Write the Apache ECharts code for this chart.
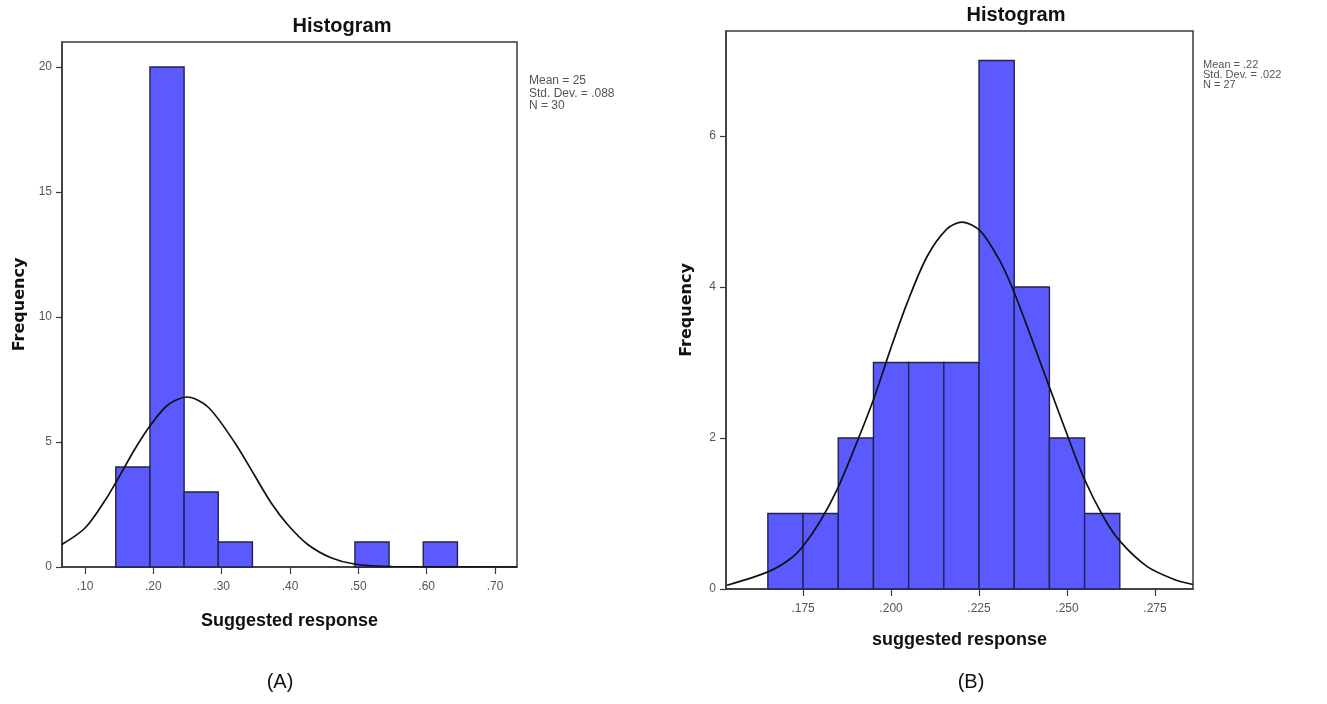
<!DOCTYPE html>
<html lang="en">
<head>
    <meta charset="UTF-8">
    <title>Histogram</title>
    <script src="https://cdn.jsdelivr.net/npm/echarts@6/dist/echarts.min.js"></script>
    <style>
        * {
            margin: 0;
            padding: 0;
        }

        html, body {
            width: 100%;
            height: 100%;
            overflow: hidden;
            background: #fff;
        }

        .box {
            width: 1327px;
            height: 704px;
        }
    </style>
</head>
<body>
<div class="box"></div>
<script>
    // (A) left histogram
    let binsA = [0.145, 0.195, 0.245, 0.295, 0.495, 0.595];
    let countsA = [4, 20, 3, 1, 1, 1];
    let binWidthA = 0.05;
    let ticksA = [0.10, 0.20, 0.30, 0.40, 0.50, 0.60, 0.70];
    let yTicksA = [0, 5, 10, 15, 20];
    let curveXA = [0.066, 0.10, 0.129, 0.146, 0.173, 0.197, 0.222, 0.249, 0.28, 0.319, 0.348, 0.373, 0.397, 0.426, 0.46, 0.494, 0.55, 0.732];
    let curveYA = [0.9, 1.56, 2.65, 3.42, 4.72, 5.72, 6.5, 6.8, 6.4, 4.98, 3.67, 2.54, 1.68, 0.9, 0.37, 0.12, 0.02, 0];
    let statsA = ['Mean = 25', 'Std. Dev. = .088', 'N = 30'];

    // (B) right histogram
    let binsB = [0.165, 0.175, 0.185, 0.195, 0.205, 0.215, 0.225, 0.235, 0.245, 0.255];
    let countsB = [1, 1, 2, 3, 3, 3, 7, 4, 2, 1];
    let binWidthB = 0.01;
    let ticksB = [0.175, 0.200, 0.225, 0.250, 0.275];
    let yTicksB = [0, 2, 4, 6];
    let curveXB = [0.1534, 0.1652, 0.1714, 0.1752, 0.1799, 0.1847, 0.1894, 0.1951, 0.1998, 0.2045, 0.2102, 0.2159, 0.2202, 0.2254, 0.2311, 0.2348, 0.2396, 0.2448, 0.250, 0.2547, 0.2604, 0.2651, 0.2727, 0.2803, 0.2858];
    let curveYB = [0.05, 0.23, 0.40, 0.58, 0.90, 1.32, 1.84, 2.52, 3.17, 3.78, 4.40, 4.77, 4.86, 4.74, 4.33, 3.95, 3.36, 2.70, 2.05, 1.48, 0.95, 0.63, 0.30, 0.13, 0.06];
    let statsB = ['Mean = .22', 'Std. Dev. = .022', 'N = 27'];

    let box = document.querySelector('.box');
    let mychart = echarts.init(box);

    let font = '"Liberation Sans", Arial, sans-serif';
    let grey = '#555';
    let frame = '#3a3a3a';

    function barData(bins, counts, w) {
        return bins.map((b, i) => [b, b + w, counts[i]]);
    }

    function curveData(xs, ys) {
        return xs.map((x, i) => [x, ys[i]]);
    }

    function renderBar(params, api) {
        let p0 = api.coord([api.value(0), api.value(2)]);
        let p1 = api.coord([api.value(1), 0]);
        return {
            type: 'rect',
            shape: {x: p0[0], y: p0[1], width: p1[0] - p0[0], height: p1[1] - p0[1]},
            style: {fill: '#5a5aff', stroke: '#23234d', lineWidth: 1.4}
        };
    }

    function xAxis(idx, min, max, ticks, digits, name, gap) {
        return {
            gridIndex: idx,
            type: 'value',
            min: min,
            max: max,
            name: name,
            nameLocation: 'middle',
            nameGap: gap,
            nameTextStyle: {fontFamily: font, fontWeight: 'bold', fontSize: 18, color: '#111'},
            axisLine: {onZero: false, lineStyle: {color: frame, width: 1.5}},
            axisTick: {show: true, customValues: ticks, length: 7, lineStyle: {color: frame, width: 1.2}},
            axisLabel: {
                customValues: ticks,
                color: grey,
                fontFamily: font,
                fontSize: 12,
                margin: 14,
                formatter: v => v.toFixed(digits).replace(/^0/, '')
            },
            splitLine: {show: false}
        };
    }

    function yAxis(idx, max, ticks, gap) {
        return {
            gridIndex: idx,
            type: 'value',
            min: 0,
            max: max,
            name: 'Frequency',
            nameLocation: 'middle',
            nameGap: gap,
            nameTextStyle: {fontFamily: '"DejaVu Sans", sans-serif', fontWeight: 'bold', fontSize: 16, color: '#111'},
            axisLine: {show: true, lineStyle: {color: frame, width: 1.5}},
            axisTick: {show: true, customValues: ticks, length: 6, lineStyle: {color: frame, width: 1.2}},
            axisLabel: {customValues: ticks, color: grey, fontFamily: font, fontSize: 12, margin: 10},
            splitLine: {show: false}
        };
    }

    function statText(lines, x, y, size, lh) {
        return lines.map((t, i) => ({
            type: 'text',
            x: x,
            y: y + i * lh,
            style: {text: t, fill: grey, font: size + 'px ' + font, textVerticalAlign: 'middle'}
        }));
    }

    function curve(idx, data) {
        return {
            type: 'line',
            xAxisIndex: idx,
            yAxisIndex: idx,
            smooth: 0.3,
            showSymbol: false,
            z: 5,
            lineStyle: {color: '#111', width: 1.7},
            data: data
        };
    }

    let option = {
        backgroundColor: '#fff',
        animation: false,
        grid: [
            {left: 62, top: 42, width: 455, height: 525, show: true, borderColor: frame, borderWidth: 1.5},
            {left: 726, top: 31, width: 467, height: 558, show: true, borderColor: frame, borderWidth: 1.5}
        ],
        xAxis: [
            xAxis(0, 0.0663, 0.7322, ticksA, 2, 'Suggested response', 45),
            xAxis(1, 0.1531, 0.2858, ticksB, 3, 'suggested response', 42)
        ],
        yAxis: [
            yAxis(0, 21, yTicksA, 34),
            yAxis(1, 7.39, yTicksB, 31)
        ],
        graphic: [
            {
                type: 'text', x: 342, y: 26,
                style: {text: 'Histogram', fill: '#111', font: 'bold 20px ' + font, textAlign: 'center', textVerticalAlign: 'middle'}
            },
            {
                type: 'text', x: 1016, y: 15,
                style: {text: 'Histogram', fill: '#111', font: 'bold 20px ' + font, textAlign: 'center', textVerticalAlign: 'middle'}
            },
            ...statText(statsA, 529, 81, 12, 12.3),
            ...statText(statsB, 1203, 65, 11, 9.8),
            {
                type: 'text', x: 280, y: 682,
                style: {text: '(A)', fill: '#111', font: '20px ' + font, textAlign: 'center', textVerticalAlign: 'middle'}
            },
            {
                type: 'text', x: 971, y: 682,
                style: {text: '(B)', fill: '#111', font: '20px ' + font, textAlign: 'center', textVerticalAlign: 'middle'}
            }
        ],
        series: [
            {
                type: 'custom',
                xAxisIndex: 0,
                yAxisIndex: 0,
                renderItem: renderBar,
                encode: {x: [0, 1], y: 2},
                data: barData(binsA, countsA, binWidthA)
            },
            {
                type: 'custom',
                xAxisIndex: 1,
                yAxisIndex: 1,
                renderItem: renderBar,
                encode: {x: [0, 1], y: 2},
                data: barData(binsB, countsB, binWidthB)
            },
            curve(0, curveData(curveXA, curveYA)),
            curve(1, curveData(curveXB, curveYB))
        ]
    };
    mychart.setOption(option);
</script>
</body>
</html>
